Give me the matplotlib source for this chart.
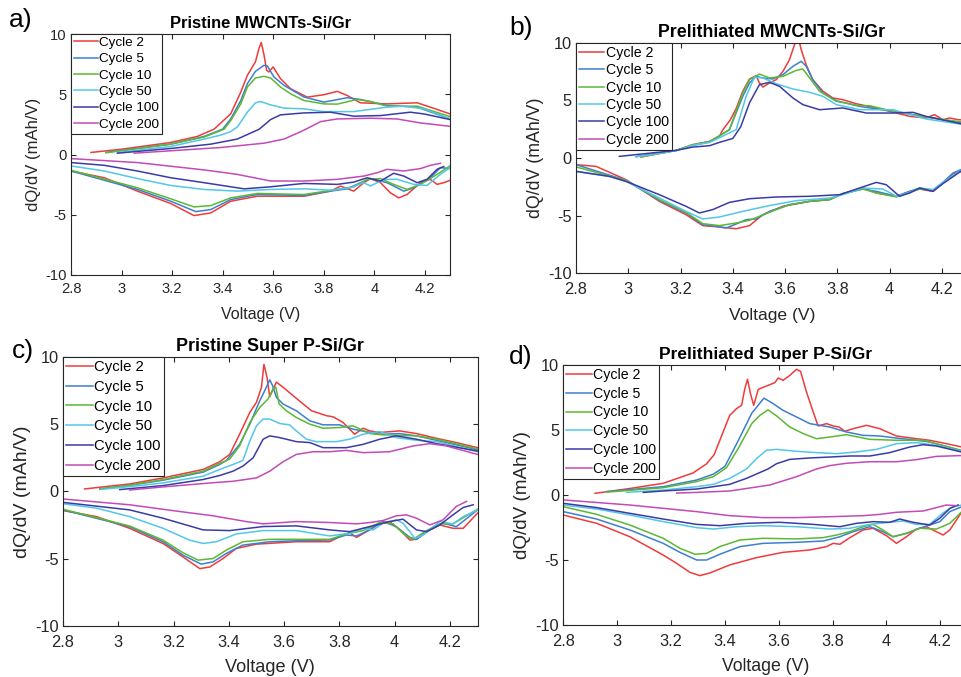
import numpy as np
import matplotlib
matplotlib.use("Agg")
import matplotlib.pyplot as plt

plt.rcParams['font.family'] = ['Liberation Sans', 'DejaVu Sans']
plt.rcParams['axes.unicode_minus'] = False

cycles = ["Cycle 2", "Cycle 5", "Cycle 10", "Cycle 50", "Cycle 100", "Cycle 200"]
colors = ['#ef3b3b', '#3d7fcf', '#5cb833', '#52c7e8', '#3b3ba6', '#c24bb8']
titles = ["Pristine MWCNTs-Si/Gr", "Prelithiated MWCNTs-Si/Gr",
          "Pristine Super P-Si/Gr", "Prelithiated Super P-Si/Gr"]
panel_tags = ["a)", "b)", "c)", "d)"]
xticks = [2.8, 3.0, 3.2, 3.4, 3.6, 3.8, 4.0, 4.2]
xtick_labels = ["2.8", "3", "3.2", "3.4", "3.6", "3.8", "4", "4.2"]
yticks = [-10, -5, 0, 5, 10]

# ---- panel a: pristine MWCNTs (V, dQ/dV) ----
a_chg_2 = [(2.879,0.17),(3.0,0.44),(3.195,1.0),(3.3,1.5),(3.366,2.1),(3.432,3.37),(3.472,5.18),(3.498,6.57),(3.518,7.27),(3.53,7.69),(3.544,8.8),(3.553,9.3),(3.564,8.25),(3.574,7.0),(3.583,6.85),(3.6,7.27),(3.629,6.3),(3.669,5.46),(3.735,4.76),(3.801,4.96),(3.854,5.24),(3.893,4.9),(3.945,4.29),(4.051,4.2),(4.17,4.29),(4.222,3.93),(4.3,3.37)]
a_chg_5 = [(2.938,0.17),(3.195,0.86),(3.327,1.5),(3.4,2.1),(3.432,2.95),(3.472,4.48),(3.498,5.88),(3.53,6.9),(3.564,7.4),(3.577,7.35),(3.603,6.44),(3.643,5.74),(3.722,4.77),(3.801,4.35),(3.893,4.71),(3.945,4.57),(4.051,4.07),(4.17,3.93),(4.3,2.95)]
a_chg_10 = [(2.94,0.15),(3.195,0.86),(3.327,1.45),(3.406,2.1),(3.432,2.81),(3.472,4.2),(3.498,5.6),(3.53,6.35),(3.564,6.49),(3.59,6.35),(3.629,5.6),(3.669,5.04),(3.722,4.48),(3.801,4.2),(3.854,4.18),(3.932,4.57),(3.985,4.4),(4.051,4.01),(4.17,4.01),(4.3,3.15)]
a_chg_50 = [(2.984,0.17),(3.195,0.67),(3.327,1.28),(3.393,1.61),(3.432,1.9),(3.459,2.3),(3.498,3.51),(3.53,4.29),(3.55,4.4),(3.59,4.12),(3.643,3.85),(3.722,3.79),(3.801,3.56),(3.919,3.56),(4.051,3.93),(4.117,4.01),(4.196,3.79),(4.3,2.95)]
a_chg_100 = [(2.984,0.11),(3.195,0.5),(3.353,0.86),(3.458,1.28),(3.545,2.1),(3.59,2.9),(3.629,3.29),(3.722,3.45),(3.827,3.51),(3.919,3.18),(4.025,3.23),(4.143,3.51),(4.196,3.37),(4.3,2.9)]
a_chg_200 = [(3.05,0.11),(3.195,0.31),(3.393,0.58),(3.564,0.94),(3.643,1.28),(3.71,1.9),(3.748,2.3),(3.788,2.73),(3.854,2.95),(3.985,3.01),(4.09,2.95),(4.183,2.62),(4.3,2.34)]
a_dis_2 = [(2.8,-1.37),(2.932,-1.93),(3.063,-3.04),(3.195,-4.07),(3.287,-5.07),(3.353,-4.85),(3.432,-3.88),(3.538,-3.46),(3.722,-3.46),(3.827,-3.04),(3.867,-2.62),(3.919,-3.04),(3.959,-2.34),(3.985,-2.0),(4.025,-2.34),(4.064,-3.18),(4.097,-3.6),(4.13,-3.32),(4.183,-2.34),(4.222,-2.06),(4.249,-2.48),(4.275,-2.34),(4.3,-2.15)]
a_dis_5 = [(2.8,-1.37),(3.063,-2.9),(3.195,-3.88),(3.294,-4.74),(3.353,-4.57),(3.432,-3.74),(3.538,-3.32),(3.722,-3.4),(3.827,-3.04),(3.893,-2.85),(3.946,-2.34),(3.985,-2.0),(4.051,-2.34),(4.117,-3.04),(4.157,-2.76),(4.222,-1.93),(4.262,-1.09),(4.3,-1.17)]
a_dis_10 = [(2.8,-1.31),(3.063,-2.76),(3.195,-3.68),(3.287,-4.35),(3.353,-4.24),(3.432,-3.6),(3.538,-3.23),(3.722,-3.32),(3.854,-2.9),(3.919,-2.68),(3.972,-2.06),(4.025,-2.0),(4.077,-2.48),(4.13,-2.9),(4.183,-2.48),(4.249,-1.65),(4.3,-0.95)]
a_dis_50 = [(2.8,-0.95),(2.932,-1.37),(3.063,-2.0),(3.195,-2.57),(3.327,-2.9),(3.458,-3.04),(3.59,-2.9),(3.722,-2.85),(3.827,-2.96),(3.906,-2.76),(3.959,-2.34),(3.985,-2.62),(4.012,-2.34),(4.045,-2.06),(4.091,-2.06),(4.157,-2.48),(4.209,-2.57),(4.262,-1.65),(4.3,-1.09)]
a_dis_100 = [(2.8,-0.67),(2.932,-0.9),(3.063,-1.37),(3.195,-1.93),(3.327,-2.34),(3.485,-2.85),(3.59,-2.68),(3.722,-2.4),(3.854,-2.48),(3.919,-2.29),(3.972,-1.93),(4.025,-2.2),(4.077,-1.56),(4.117,-1.79),(4.17,-2.34),(4.209,-2.06),(4.249,-1.23),(4.275,-1.0)]
a_dis_200 = [(2.8,-0.34),(3.063,-0.67),(3.327,-1.28),(3.458,-1.65),(3.59,-2.2),(3.722,-2.2),(3.854,-2.06),(3.959,-1.79),(4.012,-1.51),(4.051,-1.23),(4.117,-1.37),(4.183,-1.17),(4.222,-0.9),(4.262,-0.73)]

# ---- panel b: prelithiated MWCNTs (no cycle 200 trace) ----
b_chg_2 = [(3.049,0.09),(3.183,0.66),(3.247,1.16),(3.311,1.45),(3.349,1.9),(3.362,2.46),(3.39,3.3),(3.413,4.3),(3.438,5.8),(3.464,6.87),(3.489,7.16),(3.502,6.52),(3.515,6.17),(3.54,6.52),(3.566,6.81),(3.592,7.54),(3.617,8.55),(3.636,9.85),(3.649,10.6),(3.662,9.4),(3.681,8.1),(3.706,6.81),(3.745,5.8),(3.783,5.22),(3.821,5.07),(3.872,4.72),(3.949,4.35),(4.077,3.62),(4.14,3.48),(4.172,3.77),(4.204,3.33),(4.23,3.48),(4.262,3.33),(4.3,3.3)]
b_chg_5 = [(3.03,0.12),(3.183,0.66),(3.247,1.1),(3.311,1.4),(3.387,2.46),(3.438,5.36),(3.464,6.52),(3.489,7.1),(3.515,6.96),(3.553,6.87),(3.592,7.25),(3.63,7.97),(3.662,8.41),(3.681,7.97),(3.706,6.81),(3.745,5.65),(3.796,4.98),(3.885,4.49),(4.013,4.06),(4.14,3.57),(4.3,2.95)]
b_chg_10 = [(3.049,0.09),(3.183,0.66),(3.247,1.16),(3.311,1.42),(3.387,2.46),(3.438,5.65),(3.464,6.81),(3.502,7.3),(3.54,6.96),(3.592,7.1),(3.643,7.62),(3.668,7.74),(3.694,6.96),(3.732,5.8),(3.796,4.93),(3.885,4.55),(3.923,4.55),(4.013,4.06),(4.14,3.57),(4.3,3.05)]
b_chg_50 = [(3.03,0.1),(3.183,0.63),(3.247,1.1),(3.311,1.35),(3.413,2.46),(3.451,5.36),(3.483,7.04),(3.515,6.96),(3.566,6.46),(3.63,6.0),(3.694,5.71),(3.745,5.36),(3.796,4.64),(3.885,4.2),(4.013,4.2),(4.14,3.39),(4.3,2.85)]
b_chg_100 = [(2.966,0.14),(3.183,0.66),(3.247,0.95),(3.311,1.07),(3.349,1.36),(3.4,1.7),(3.43,2.7),(3.464,4.8),(3.502,6.38),(3.54,6.58),(3.579,6.23),(3.63,5.22),(3.668,4.64),(3.732,4.2),(3.821,4.35),(3.911,3.91),(4.013,3.91),(4.089,3.97),(4.14,3.62),(4.3,2.85)]
b_chg_200 = []
b_dis_2 = [(2.8,-0.58),(2.877,-0.73),(2.991,-1.88),(3.119,-3.77),(3.221,-4.93),(3.285,-5.88),(3.349,-6.0),(3.413,-6.15),(3.464,-5.88),(3.515,-4.93),(3.592,-4.2),(3.694,-3.77),(3.77,-3.62),(3.821,-3.1),(3.898,-2.61),(3.949,-3.04),(4.026,-3.33),(4.077,-2.9),(4.115,-2.7),(4.166,-2.9),(4.204,-2.17),(4.243,-1.36),(4.278,-1.16),(4.3,-1.1)]
b_dis_5 = [(2.8,-0.58),(2.991,-1.94),(3.119,-3.68),(3.221,-4.78),(3.285,-5.8),(3.336,-5.94),(3.374,-6.09),(3.413,-5.74),(3.451,-5.36),(3.489,-5.3),(3.54,-4.64),(3.617,-4.06),(3.694,-3.77),(3.77,-3.62),(3.821,-3.1),(3.898,-2.7),(3.949,-2.9),(4.026,-3.33),(4.077,-2.9),(4.115,-2.61),(4.166,-2.81),(4.204,-2.12),(4.243,-1.3),(4.278,-0.96),(4.3,-0.9)]
b_dis_10 = [(2.8,-0.78),(2.991,-1.94),(3.119,-3.62),(3.221,-4.72),(3.285,-5.71),(3.349,-5.88),(3.413,-5.65),(3.464,-5.42),(3.54,-4.72),(3.617,-4.06),(3.694,-3.77),(3.77,-3.62),(3.821,-3.1),(3.898,-2.7),(3.949,-3.04),(4.026,-3.39),(4.077,-2.99),(4.115,-2.7),(4.166,-2.81),(4.204,-2.17),(4.278,-1.01),(4.3,-0.95)]
b_dis_50 = [(2.8,-1.16),(2.928,-1.6),(2.991,-2.03),(3.119,-3.48),(3.221,-4.64),(3.285,-5.3),(3.349,-5.13),(3.438,-4.64),(3.54,-4.14),(3.643,-3.71),(3.77,-3.48),(3.821,-3.19),(3.898,-2.61),(3.975,-2.7),(4.026,-3.33),(4.077,-2.99),(4.115,-2.61),(4.166,-2.75),(4.204,-2.12),(4.278,-1.01),(4.3,-0.95)]
b_dis_100 = [(2.8,-1.16),(2.928,-1.6),(2.991,-2.03),(3.119,-3.19),(3.221,-4.2),(3.272,-4.78),(3.323,-4.49),(3.387,-3.86),(3.464,-3.54),(3.566,-3.39),(3.694,-3.33),(3.809,-3.19),(3.885,-2.61),(3.949,-2.12),(3.987,-2.32),(4.038,-3.33),(4.077,-3.04),(4.115,-2.61),(4.166,-2.9),(4.204,-2.23),(4.278,-1.07),(4.3,-1.0)]
b_dis_200 = []

# ---- panel c: pristine Super P ----
c_chg_2 = [(2.878,0.18),(3.041,0.55),(3.162,1.0),(3.307,1.63),(3.367,2.2),(3.403,2.75),(3.439,4.25),(3.476,5.88),(3.5,6.63),(3.518,7.75),(3.527,9.45),(3.538,8.5),(3.548,7.05),(3.558,7.5),(3.572,8.13),(3.596,7.75),(3.632,7.13),(3.669,6.5),(3.699,6.0),(3.729,5.8),(3.753,5.63),(3.777,5.55),(3.813,5.13),(3.837,4.63),(3.855,4.25),(3.886,4.7),(3.91,4.5),(3.946,4.38),(4.018,4.5),(4.079,4.3),(4.151,3.95),(4.223,3.63),(4.3,3.25)]
c_chg_5 = [(2.933,0.18),(3.041,0.45),(3.162,0.83),(3.307,1.43),(3.367,2.0),(3.391,2.3),(3.439,3.5),(3.476,5.0),(3.512,6.75),(3.53,7.5),(3.548,8.3),(3.558,7.88),(3.572,7.0),(3.596,6.5),(3.644,6.0),(3.693,5.25),(3.741,4.95),(3.801,4.95),(3.849,4.63),(3.946,4.25),(4.018,4.3),(4.079,4.13),(4.151,3.8),(4.3,3.1)]
c_chg_10 = [(2.933,0.18),(3.041,0.45),(3.162,0.88),(3.307,1.5),(3.367,2.08),(3.403,2.4),(3.439,3.38),(3.476,5.13),(3.512,6.25),(3.542,6.88),(3.56,7.63),(3.57,7.75),(3.582,6.5),(3.608,6.0),(3.644,5.5),(3.693,5.0),(3.741,4.7),(3.801,4.75),(3.849,4.88),(3.91,4.3),(3.958,4.2),(4.079,4.13),(4.151,3.88),(4.3,3.15)]
c_chg_50 = [(2.94,0.15),(3.041,0.35),(3.162,0.63),(3.307,1.13),(3.367,1.63),(3.415,2.0),(3.451,2.3),(3.476,3.75),(3.5,4.88),(3.524,5.38),(3.548,5.38),(3.584,5.05),(3.62,4.95),(3.644,4.5),(3.681,3.88),(3.717,3.7),(3.789,3.7),(3.837,3.88),(3.886,4.25),(3.946,4.45),(4.006,4.0),(4.079,3.8),(4.151,3.7),(4.3,2.95)]
c_chg_100 = [(3.005,0.13),(3.162,0.43),(3.307,0.88),(3.367,1.18),(3.415,1.5),(3.451,1.88),(3.488,2.5),(3.524,3.88),(3.548,4.13),(3.584,4.0),(3.644,3.7),(3.693,3.63),(3.741,3.25),(3.825,3.25),(3.886,3.5),(3.946,3.88),(4.006,4.13),(4.079,3.88),(4.151,3.55),(4.3,3.0)]
c_chg_200 = [(3.041,0.1),(3.162,0.33),(3.307,0.58),(3.367,0.68),(3.415,0.75),(3.5,1.0),(3.548,1.5),(3.596,2.2),(3.644,2.75),(3.705,2.95),(3.765,2.95),(3.825,3.05),(3.886,2.88),(3.982,2.95),(4.067,3.38),(4.127,3.55),(4.187,3.38),(4.3,2.75)]
c_dis_2 = [(2.8,-1.43),(2.921,-1.88),(3.041,-2.75),(3.162,-3.88),(3.234,-4.88),(3.295,-5.75),(3.331,-5.63),(3.379,-5.0),(3.427,-4.25),(3.5,-3.93),(3.644,-3.75),(3.765,-3.75),(3.813,-3.25),(3.837,-3.07),(3.862,-3.43),(3.898,-3.0),(3.946,-2.32),(3.982,-2.25),(4.018,-2.87),(4.055,-3.62),(4.079,-3.57),(4.115,-3.0),(4.163,-2.5),(4.211,-2.75),(4.248,-2.75),(4.3,-1.62)]
c_dis_5 = [(2.8,-1.38),(3.041,-2.63),(3.162,-3.75),(3.234,-4.75),(3.3,-5.42),(3.343,-5.25),(3.391,-4.62),(3.451,-4.0),(3.548,-3.75),(3.644,-3.68),(3.765,-3.62),(3.825,-3.25),(3.862,-3.32),(3.91,-2.87),(3.958,-2.25),(4.006,-2.63),(4.055,-3.43),(4.079,-3.57),(4.127,-2.87),(4.175,-2.37),(4.223,-2.63),(4.3,-1.38)]
c_dis_10 = [(2.8,-1.33),(3.041,-2.58),(3.162,-3.63),(3.234,-4.57),(3.289,-5.12),(3.343,-5.0),(3.391,-4.37),(3.451,-3.75),(3.548,-3.57),(3.644,-3.57),(3.765,-3.57),(3.825,-3.17),(3.886,-2.92),(3.946,-2.32),(3.994,-2.42),(4.042,-3.32),(4.067,-3.57),(4.115,-2.92),(4.163,-2.42),(4.211,-2.42),(4.3,-1.33)]
c_dis_50 = [(2.8,-0.92),(2.921,-1.25),(3.041,-1.88),(3.162,-2.75),(3.258,-3.63),(3.307,-3.88),(3.355,-3.75),(3.427,-3.17),(3.524,-2.92),(3.644,-2.92),(3.765,-3.32),(3.837,-3.12),(3.886,-2.75),(3.922,-2.87),(3.958,-2.37),(4.006,-2.12),(4.03,-2.37),(4.055,-3.0),(4.073,-3.5),(4.103,-3.25),(4.163,-2.25),(4.211,-2.42),(4.248,-1.88),(4.3,-1.38)]
c_dis_100 = [(2.8,-0.82),(3.041,-1.38),(3.162,-2.0),(3.307,-2.87),(3.403,-2.92),(3.524,-2.62),(3.644,-2.57),(3.765,-2.87),(3.837,-3.0),(3.91,-2.62),(3.982,-2.25),(4.03,-2.07),(4.079,-2.87),(4.115,-3.0),(4.163,-2.5),(4.211,-1.75),(4.248,-1.2),(4.284,-1.0)]
c_dis_200 = [(2.8,-0.57),(3.041,-1.0),(3.222,-1.5),(3.343,-1.82),(3.463,-2.25),(3.524,-2.42),(3.644,-2.25),(3.765,-2.32),(3.862,-2.42),(3.91,-2.32),(3.958,-2.17),(4.006,-1.82),(4.042,-1.75),(4.079,-2.0),(4.127,-2.5),(4.175,-2.12),(4.223,-1.12),(4.26,-0.75)]

# ---- panel d: prelithiated Super P ----
d_chg_2 = [(2.918,0.13),(3.047,0.5),(3.171,0.9),(3.282,1.7),(3.332,2.4),(3.36,3.1),(3.381,4.2),(3.418,6.13),(3.443,6.64),(3.462,6.9),(3.474,8.18),(3.484,8.9),(3.495,7.8),(3.507,6.9),(3.524,8.13),(3.554,8.38),(3.585,8.64),(3.598,9.0),(3.616,8.82),(3.641,9.2),(3.666,9.67),(3.681,9.51),(3.703,7.92),(3.728,6.38),(3.746,5.31),(3.777,5.49),(3.802,5.31),(3.824,5.23),(3.845,4.9),(3.876,5.1),(3.926,5.36),(3.975,5.1),(4.037,4.54),(4.111,4.33),(4.16,4.21),(4.222,3.95),(4.3,3.6)]
d_chg_5 = [(2.961,0.26),(3.171,0.64),(3.295,1.15),(3.357,1.6),(3.4,2.2),(3.45,4.2),(3.5,6.3),(3.545,7.45),(3.579,7.03),(3.616,6.51),(3.666,6.0),(3.715,5.49),(3.789,5.23),(3.851,4.85),(3.913,4.59),(3.975,4.54),(4.037,4.38),(4.111,4.21),(4.16,4.08),(4.3,3.3)]
d_chg_10 = [(2.961,0.22),(3.171,0.56),(3.295,1.03),(3.357,1.41),(3.406,2.1),(3.45,3.6),(3.5,5.5),(3.53,6.13),(3.56,6.55),(3.592,6.08),(3.641,5.23),(3.691,4.72),(3.74,4.33),(3.789,4.46),(3.851,4.64),(3.938,4.28),(4.037,4.21),(4.136,4.21),(4.3,3.3)]
d_chg_50 = [(3.035,0.2),(3.171,0.38),(3.295,0.64),(3.357,0.82),(3.418,1.28),(3.48,2.0),(3.517,2.79),(3.554,3.44),(3.592,3.51),(3.666,3.36),(3.74,3.26),(3.814,3.18),(3.888,3.31),(3.963,3.51),(4.037,3.95),(4.111,4.03),(4.185,3.82),(4.3,3.25)]
d_chg_100 = [(3.097,0.2),(3.171,0.31),(3.295,0.46),(3.357,0.64),(3.418,0.82),(3.48,1.28),(3.56,2.0),(3.592,2.41),(3.641,2.74),(3.715,2.85),(3.789,2.92),(3.864,3.0),(3.938,3.0),(4.012,3.26),(4.086,3.69),(4.136,3.87),(4.185,3.77),(4.3,3.2)]
d_chg_200 = [(3.221,0.15),(3.295,0.2),(3.418,0.31),(3.567,0.77),(3.666,1.41),(3.74,2.0),(3.789,2.26),(3.851,2.44),(3.938,2.56),(4.037,2.56),(4.111,2.72),(4.185,2.97),(4.3,3.05)]
d_dis_2 = [(2.8,-1.54),(2.924,-2.18),(3.047,-3.21),(3.171,-4.62),(3.221,-5.26),(3.27,-5.95),(3.307,-6.2),(3.344,-6.0),(3.418,-5.38),(3.517,-4.82),(3.616,-4.41),(3.715,-4.23),(3.777,-3.97),(3.802,-3.72),(3.827,-3.79),(3.864,-3.28),(3.913,-2.69),(3.95,-2.56),(4.0,-3.13),(4.037,-3.72),(4.074,-3.21),(4.111,-2.62),(4.148,-2.44),(4.185,-2.82),(4.21,-3.08),(4.235,-2.69),(4.26,-1.92),(4.28,-1.28),(4.3,-1.1)]
d_dis_5 = [(2.8,-1.28),(2.924,-1.85),(3.047,-2.69),(3.171,-3.72),(3.233,-4.41),(3.295,-5.0),(3.332,-5.0),(3.381,-4.56),(3.456,-3.97),(3.542,-3.72),(3.666,-3.64),(3.765,-3.54),(3.827,-3.21),(3.876,-2.82),(3.938,-2.44),(3.987,-2.82),(4.024,-3.21),(4.074,-2.95),(4.123,-2.56),(4.16,-2.31),(4.198,-2.05),(4.235,-1.28),(4.28,-0.9),(4.3,-0.85)]
d_dis_10 = [(2.8,-0.9),(2.924,-1.49),(3.047,-2.31),(3.171,-3.33),(3.233,-4.1),(3.289,-4.56),(3.332,-4.49),(3.381,-3.97),(3.456,-3.46),(3.542,-3.33),(3.666,-3.38),(3.765,-3.28),(3.814,-3.08),(3.864,-2.82),(3.913,-2.44),(3.95,-2.26),(3.987,-2.69),(4.024,-3.21),(4.074,-2.95),(4.123,-2.56),(4.185,-2.62),(4.235,-2.18),(4.28,-1.28),(4.3,-1.1)]
d_dis_50 = [(2.8,-0.77),(2.924,-1.08),(3.047,-1.54),(3.171,-2.05),(3.295,-2.51),(3.357,-2.62),(3.443,-2.44),(3.542,-2.36),(3.666,-2.44),(3.789,-2.62),(3.864,-2.56),(3.938,-2.26),(4.012,-2.1),(4.062,-2.0),(4.111,-2.26),(4.16,-2.26),(4.21,-1.38),(4.247,-0.9),(4.28,-0.77)]
d_dis_100 = [(2.8,-0.64),(2.924,-0.97),(3.047,-1.41),(3.171,-1.85),(3.295,-2.26),(3.381,-2.36),(3.48,-2.18),(3.604,-2.1),(3.728,-2.26),(3.827,-2.44),(3.888,-2.18),(3.95,-2.05),(4.012,-2.1),(4.049,-1.85),(4.099,-2.1),(4.16,-2.31),(4.198,-1.79),(4.235,-1.03),(4.266,-0.77)]
d_dis_200 = [(2.8,-0.38),(3.047,-0.77),(3.295,-1.28),(3.418,-1.59),(3.542,-1.74),(3.666,-1.74),(3.789,-1.67),(3.913,-1.59),(3.975,-1.49),(4.037,-1.33),(4.136,-1.23),(4.185,-0.97),(4.222,-0.77),(4.26,-0.82)]

charge = [
    [a_chg_2, a_chg_5, a_chg_10, a_chg_50, a_chg_100, a_chg_200],
    [b_chg_2, b_chg_5, b_chg_10, b_chg_50, b_chg_100, b_chg_200],
    [c_chg_2, c_chg_5, c_chg_10, c_chg_50, c_chg_100, c_chg_200],
    [d_chg_2, d_chg_5, d_chg_10, d_chg_50, d_chg_100, d_chg_200],
]
discharge = [
    [a_dis_2, a_dis_5, a_dis_10, a_dis_50, a_dis_100, a_dis_200],
    [b_dis_2, b_dis_5, b_dis_10, b_dis_50, b_dis_100, b_dis_200],
    [c_dis_2, c_dis_5, c_dis_10, c_dis_50, c_dis_100, c_dis_200],
    [d_dis_2, d_dis_5, d_dis_10, d_dis_50, d_dis_100, d_dis_200],
]

W, H = 962, 677
fig = plt.figure(figsize=(W / 100, H / 100), dpi=100)

# axes boxes in pixels: left, top, right, bottom
boxes = [(71, 34, 450, 275), (576, 43, 968, 273),
         (63, 357, 477.6, 625.7), (563.3, 365, 967.3, 625)]
tag_pos = [(9, 20), (509, 28), (12, 351), (509, 357)]
# per-panel text sizes (the four panels were scaled differently)
tick_fs = [10.6, 11.8, 11.8, 11.8]
xtick_pad = [5.2, 6.6, 6.6, 6.6]
xlab_fs = [11.5, 12.6, 13.1, 12.7]
ylab_fs = [12.0, 12.8, 14.0, 13.6]
title_fs = [11.9, 12.8, 12.9, 12.5]
leg_fs = [9.7, 10.2, 10.7, 10.2]
leg_sp = [0.29, 0.24, 0.39, 0.34]
xlab_pad = [8, 7.5, 6.5, 6.5]
ink = '#262626'


def to_xy(pairs):
    if len(pairs) == 0:
        return [], []
    arr = np.array(pairs)
    return arr[:, 0], arr[:, 1]


for k in range(4):
    l, t, r, b = boxes[k]
    ax = fig.add_axes([l / W, 1 - b / H, (r - l) / W, (b - t) / H])
    for i in range(6):
        x, y = to_xy(charge[k][i])
        ax.plot(x, y, color=colors[i], lw=1.1, label=cycles[i])
        x, y = to_xy(discharge[k][i])
        ax.plot(x, y, color=colors[i], lw=1.1)
    ax.set_xlim(2.8, 4.3)
    ax.set_ylim(-10, 10)
    ax.set_xticks(xticks)
    ax.set_xticklabels(xtick_labels)
    ax.set_yticks(yticks)
    ax.tick_params(direction='in', top=True, right=True, length=3.5,
                   width=0.8, colors=ink, labelsize=tick_fs[k], pad=3)
    ax.tick_params(axis='x', pad=xtick_pad[k])
    for sp in ax.spines.values():
        sp.set_color(ink)
        sp.set_linewidth(0.8)
    ax.set_xlabel("Voltage (V)", fontsize=xlab_fs[k], color=ink,
                  labelpad=xlab_pad[k])
    ax.set_ylabel("dQ/dV (mAh/V)", fontsize=ylab_fs[k], color=ink, labelpad=3)
    ax.set_title(titles[k], fontsize=title_fs[k], fontweight='bold', pad=4)
    leg = ax.legend(loc='upper left', borderaxespad=0, fontsize=leg_fs[k],
                    handlelength=1.8, handletextpad=0.1,
                    labelspacing=leg_sp[k], borderpad=0.2,
                    fancybox=False, framealpha=1)
    leg.get_frame().set_edgecolor(ink)
    leg.get_frame().set_linewidth(0.8)
    fig.text(tag_pos[k][0] / W, 1 - tag_pos[k][1] / H, panel_tags[k],
             fontsize=19, ha='left', va='center')

fig.savefig("out.png", dpi=100)
